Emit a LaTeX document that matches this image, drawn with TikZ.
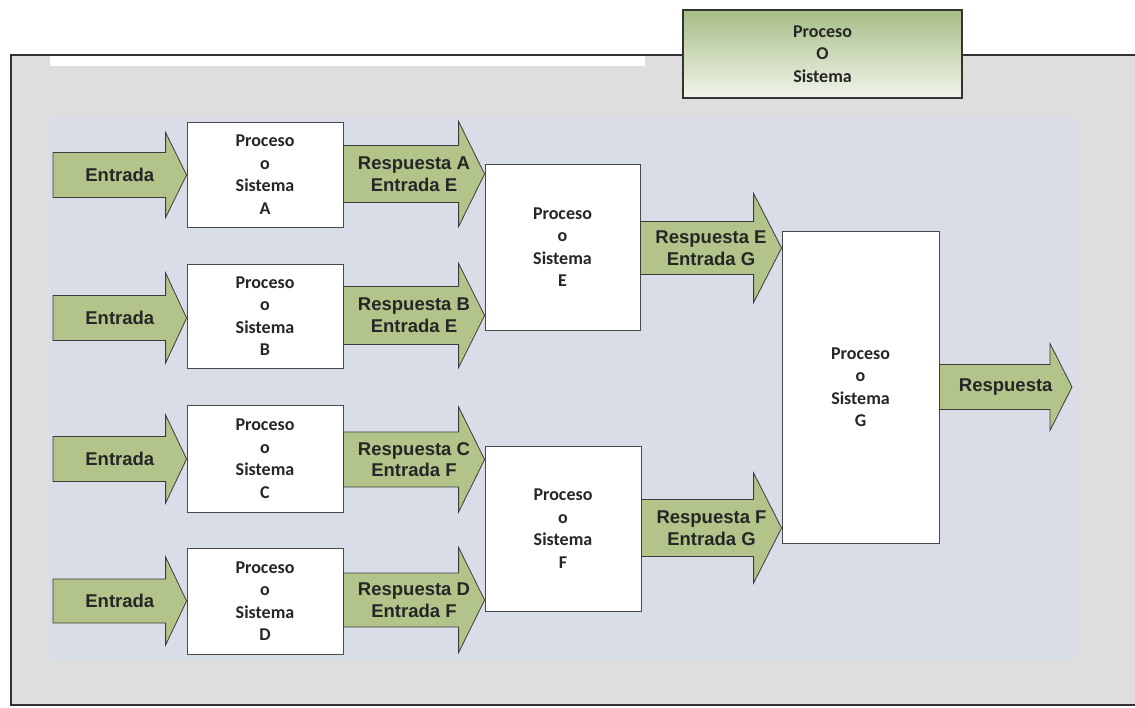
\documentclass[tikz,border=0pt]{standalone}
\usepackage{fontspec}
\setmainfont{Carlito}
\newfontfamily\arrowfont{Liberation Sans}
\usetikzlibrary{calc}

\definecolor{arrowgreen}{HTML}{B3C48A}
\definecolor{arrowline}{HTML}{3C3C3C}
\definecolor{boxline}{HTML}{4A4A4A}
\definecolor{txt}{HTML}{262626}
\definecolor{pagegrey}{HTML}{DEDEDE}
\definecolor{panelblue}{HTML}{D9DDE7}
\definecolor{framegrey}{HTML}{333333}
\definecolor{headgreen}{HTML}{A6BD86}
\definecolor{headlight}{HTML}{F2F5EC}

% Block arrow: #1 start point, #2 tip point, #3 centre y, #4 shaft half-height,
% #5 head half-height, #6 head length, #7 label name, #8 label text
\newcommand\blockarrow[8]{%
  \path[arrowbody] let \p1=#1, \p2=#2, \p3=(0,#3) in
    (\x1,\y3+#4pt) -- (\x2-#6pt,\y3+#4pt) -- (\x2-#6pt,\y3+#5pt) -- (\x2,\y3)
    -- (\x2-#6pt,\y3-#5pt) -- (\x2-#6pt,\y3-#4pt) -- (\x1,\y3-#4pt) -- cycle
    node[arrowtext] (#7) at ({(\x1+\x2)/2},\y3) {#8};%
}

\begin{document}
\begin{tikzpicture}[x=1pt,y=-1pt,
  procbox/.style={draw=boxline, line width=0.8pt, fill=white, text=txt,
    font=\bfseries\fontsize{18}{22.5}\selectfont, align=center, inner sep=0pt},
  arrowbody/.style={draw=arrowline, line width=0.8pt, fill=arrowgreen, line join=miter},
  arrowtext/.style={text=txt, font=\arrowfont\bfseries\fontsize{18.5}{21.7}\selectfont,
    align=center, inner sep=0pt},
  headbox/.style={draw=framegrey, line width=2.6pt, top color=headgreen, bottom color=headlight,
    text=txt, font=\bfseries\fontsize{18}{22.5}\selectfont, align=center, inner sep=0pt},
  frameline/.style={draw=framegrey, line width=2.8pt}]
\useasboundingbox (0,0) rectangle (1135,707);

% page and panel behind the diagram
\fill[white] (0,0) rectangle (1135,707);
\fill[pagegrey] (11,55) rectangle (1135,705);
\fill[white] (50,56) rectangle (645,66);
\fill[panelblue] (50,117) rectangle (1075,660);

% frame
\draw[frameline] (1135,55) -- (11,55) -- (11,705) -- (1135,705);

% header box
\node[headbox, minimum width=279pt, minimum height=88pt] (head) at (822.5,54) {Proceso\\O\\Sistema};

% process boxes
\node[procbox, minimum width=156pt, minimum height=105pt] (A) at (265,174.5) {Proceso\\o\\Sistema\\A};
\node[procbox, minimum width=156pt, minimum height=104pt] (B) at (265,316) {Proceso\\o\\Sistema\\B};
\node[procbox, minimum width=156pt, minimum height=107pt] (C) at (265,458.5) {Proceso\\o\\Sistema\\C};
\node[procbox, minimum width=156pt, minimum height=106pt] (D) at (265,601) {Proceso\\o\\Sistema\\D};
\node[procbox, minimum width=155pt, minimum height=166pt] (E) at (562.5,247) {Proceso\\o\\Sistema\\E};
\node[procbox, minimum width=156pt, minimum height=165pt] (F) at (563,528.5) {Proceso\\o\\Sistema\\F};
\node[procbox, minimum width=157pt, minimum height=312pt] (G) at (860.5,387) {Proceso\\o\\Sistema\\G};

% free ends of the input and output arrows
\coordinate (inA) at (53,175);
\coordinate (inB) at (53,318);
\coordinate (inC) at (53,459);
\coordinate (inD) at (53,601);
\coordinate (out) at (1072,387);

% inputs
\blockarrow{(inA)}{(A.west)}{175}{22.5}{42.5}{21}{tA}{Entrada}
\blockarrow{(inB)}{(B.west)}{318}{22.5}{45}{21}{tB}{Entrada}
\blockarrow{(inC)}{(C.west)}{459}{22.5}{44}{21}{tC}{Entrada}
\blockarrow{(inD)}{(D.west)}{601}{22}{44}{21}{tD}{Entrada}

% first stage responses
\blockarrow{(A.east)}{(E.west)}{174}{28.5}{52.5}{26}{rA}{Respuesta A\\Entrada E}
\blockarrow{(B.east)}{(E.west)}{315.5}{29}{52}{26}{rB}{Respuesta B\\Entrada E}
\blockarrow{(C.east)}{(F.west)}{459.5}{27.5}{52.5}{26}{rC}{Respuesta C\\Entrada F}
\blockarrow{(D.east)}{(F.west)}{600}{27}{52.5}{26}{rD}{Respuesta D\\Entrada F}

% second stage responses
\blockarrow{(E.east)}{(G.west)}{248}{26.5}{54.5}{28}{rE}{Respuesta E\\Entrada G}
\blockarrow{(F.east)}{(G.west)}{528}{28.5}{55}{28}{rF}{Respuesta F\\Entrada G}

% final output
\blockarrow{(G.east)}{(out)}{387}{22.5}{43.5}{22}{rG}{Respuesta}
\end{tikzpicture}
\end{document}
